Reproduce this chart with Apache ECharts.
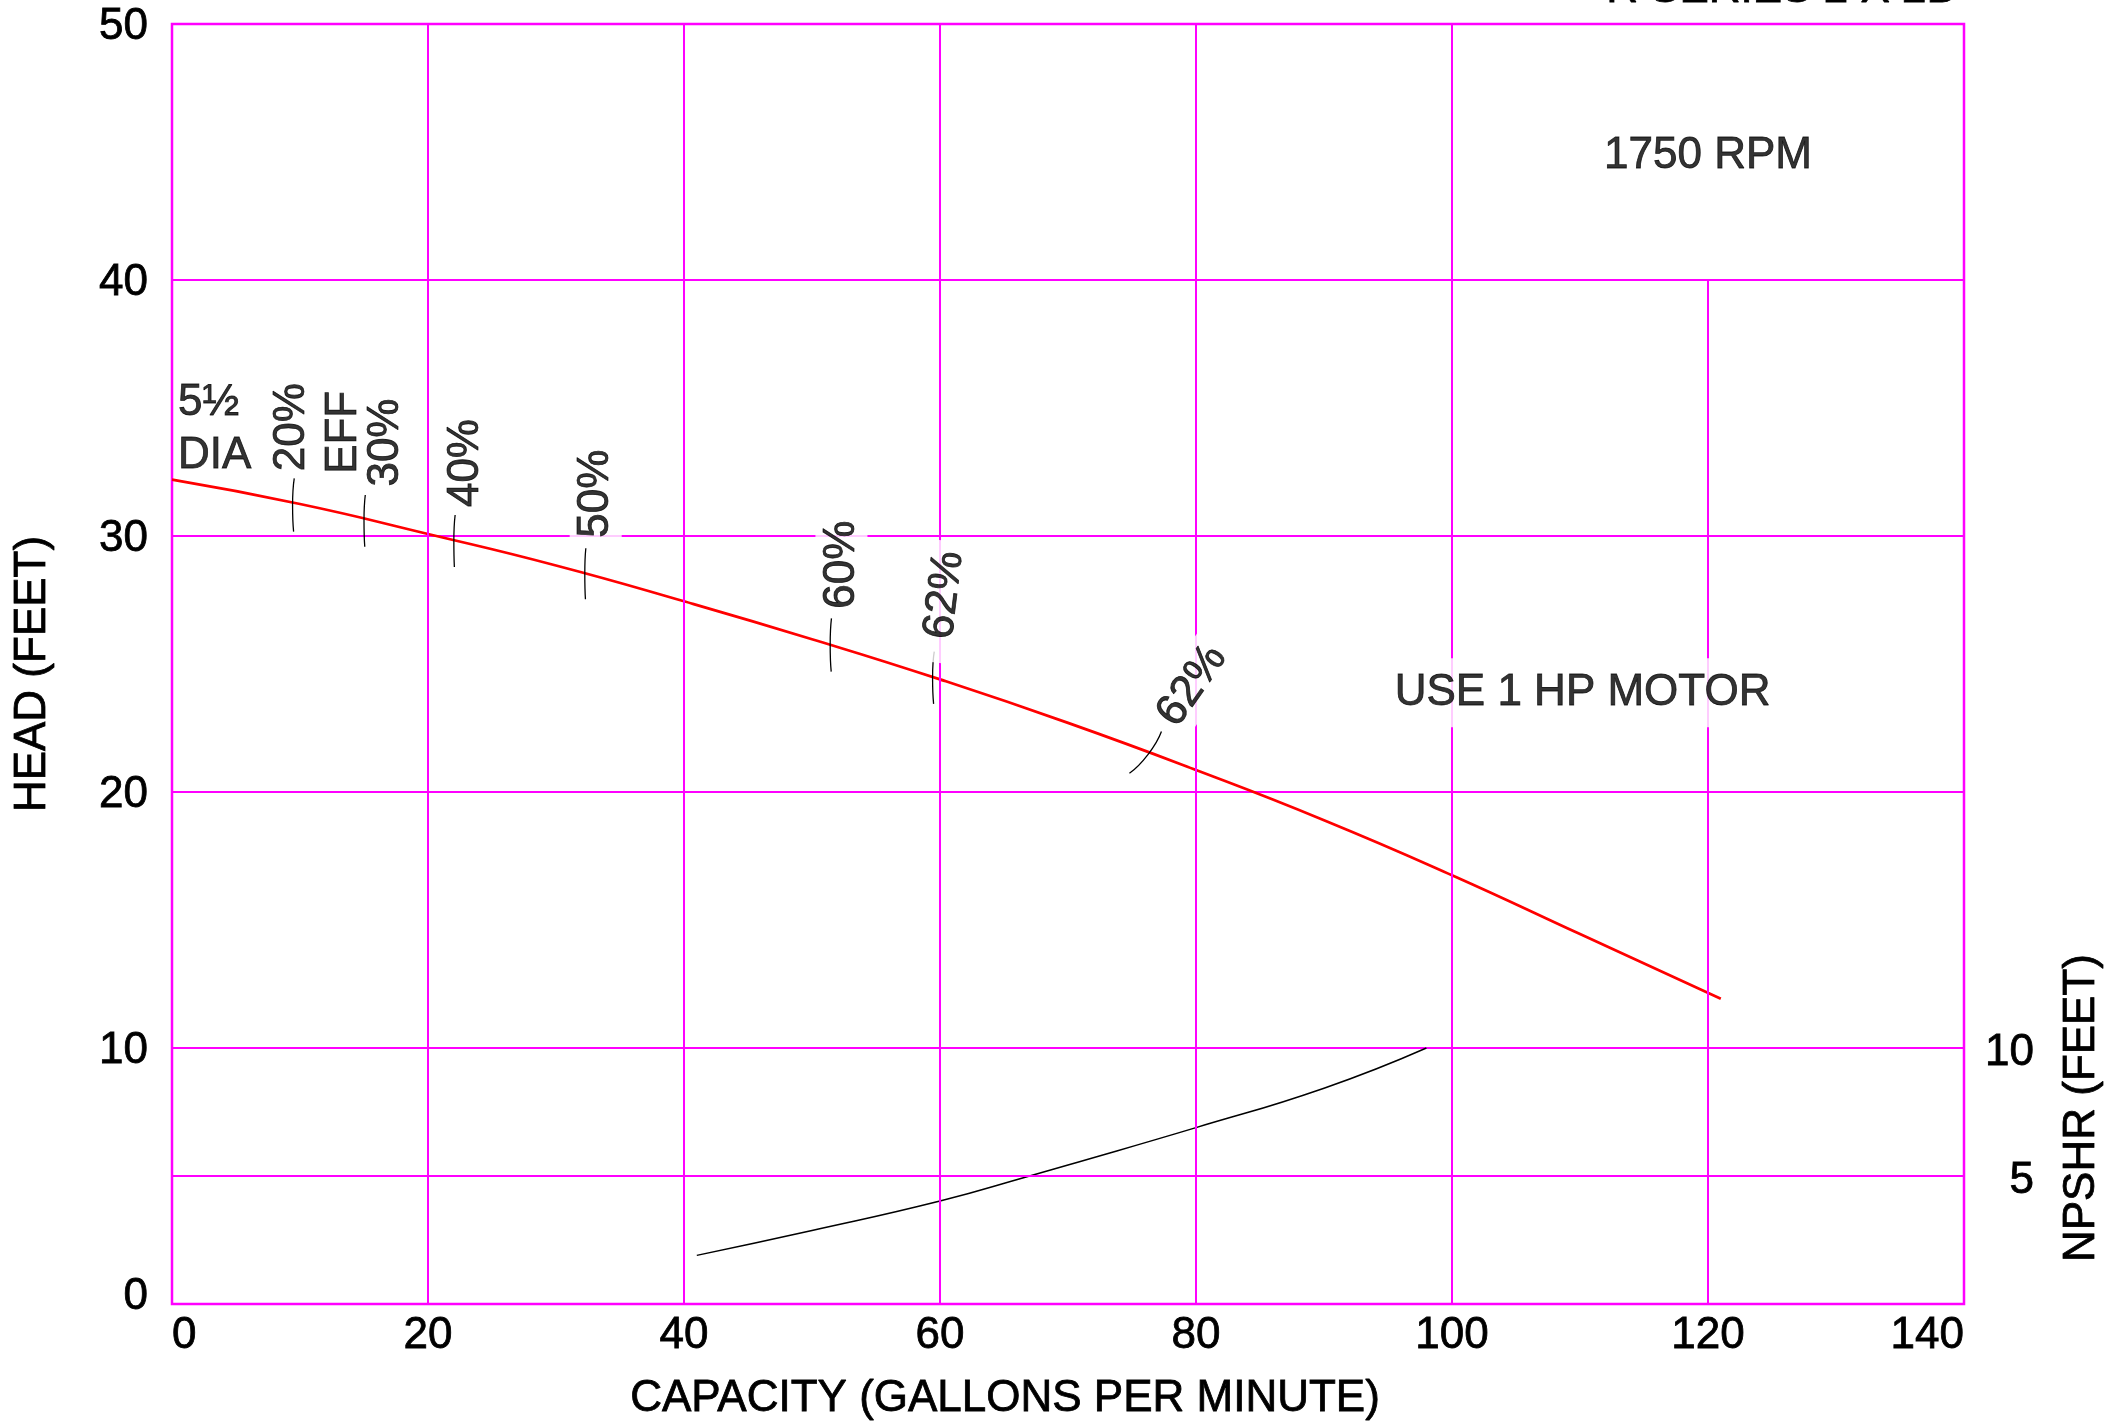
<!DOCTYPE html>
<html>
<head>
<meta charset="utf-8">
<script src="https://cdn.jsdelivr.net/npm/echarts@6/dist/echarts.min.js"></script>
<style>
html,body{margin:0;padding:0;background:#fff;}
#chart{width:2112px;height:1424px;}
</style>
</head>
<body>
<div id="chart"></div>
<script>
// ---------- data ----------
const xTicks = [0, 20, 40, 60, 80, 100, 120, 140];
const headTicks = [0, 10, 20, 30, 40, 50];
const npshrTicks = [5, 10];

const capacity = [0, 10, 20, 30, 40, 50, 60, 70, 80, 90, 100, 110, 121];
const headFeet = [32.2, 31.25, 30.08, 28.85, 27.45, 25.97, 24.4, 22.7, 20.86, 18.9, 16.75, 14.45, 11.92];

const npshrCapacity = [41, 50, 60, 67, 70, 80, 90, 98];
const npshrFeet = [1.9, 2.87, 4.02, 5.0, 5.43, 6.89, 8.43, 10.0];

const effText = ['20%', 'EFF', '30%', '40%', '50%', '60%', '62%', '62%'];
const effLabelX = [9.35, 13.4, 16.7, 22.97, 33.1, 52.3, 60.3, 79.7];
const effLabelY = [34.25, 34.05, 33.65, 32.85, 31.65, 28.88, 27.42, 24.15];

const effTickTop = [[9.55, 32.25], [15.1, 31.6], [22.12, 30.82], [32.33, 29.52], [51.52, 26.78], [59.55, 25.48], [77.3, 22.36]];
const effTickMid = [[9.42, 31.2], [15.0, 30.6], [22.02, 29.8], [32.25, 28.53], [51.42, 25.75], [59.42, 24.46], [76.26, 21.47]];
const effTickBot = [[9.5, 30.17], [15.06, 29.58], [22.06, 28.79], [32.3, 27.53], [51.5, 24.7], [59.5, 23.44], [74.8, 20.73]];

const noteText = ['5½\nDIA', '1750 RPM', 'USE 1 HP MOTOR'];
const noteX = [0.47, 120, 110.2];
const noteY = [34.18, 44.85, 23.88];

const gridXFull = [20, 40, 60, 80, 100];
const gridXPartial = [120];
const gridXPartialTop = 40;
const gridYExtra = [5];

const titleText = 'R SERIES 2 X 2B';

// ---------- styles ----------
const MAG = '#FF00FF';
const FONT = "'Liberation Sans', Arial, Helvetica, sans-serif";
const FS = 44;
const INK = {color: '#000', textBorderColor: '#000', textBorderWidth: 0.8};
const effLabelAngle = [90, 90, 90, 90, 90, 90, 83, 55];
const effLabelMask = [false, false, false, false, true, true, true, true];
const effLabelPad = [[2,4], [2,4], [2,4], [2,4], [4,8], [4,8], [4,10,4,24], [4,8]];

const chart = echarts.init(document.getElementById('chart'), null, {renderer: 'canvas'});

const tickSeries = effTickTop.map((t, i) => ({
  type: 'line',
  data: [t, effTickMid[i], effTickBot[i]],
  smooth: 0.6,
  showSymbol: false,
  silent: true,
  z: 5,
  lineStyle: {color: '#000', width: 1.3}
}));

const labelData = effText.map((t, i) => ({
  value: [effLabelX[i], effLabelY[i]],
  label: {
    formatter: t,
    rotate: effLabelAngle[i],
    backgroundColor: effLabelMask[i] ? '#fff' : 'transparent',
    padding: effLabelPad[i]
  }
})).concat(noteText.map((t, i) => ({
  value: [noteX[i], noteY[i]],
  label: {
    formatter: t,
    rotate: 0,
    align: i === 0 ? 'left' : 'center',
    lineHeight: 53,
    backgroundColor: i === 2 ? '#fff' : 'transparent',
    padding: i === 2 ? [8, 4] : [0, 0]
  }
})));

const gridMarkData = gridXFull.map(v => ({xAxis: v}))
  .concat(gridXPartial.map(v => [{coord: [v, 0]}, {coord: [v, gridXPartialTop]}]))
  .concat(gridYExtra.map(v => ({yAxis: v})));

const option = {
  animation: false,
  textStyle: {fontFamily: FONT},
  grid: {left: 172, right: 148, top: 24, bottom: 120, show: true, borderColor: MAG, borderWidth: 2.5,
         backgroundColor: '#fff', containLabel: false, outerBoundsMode: 'none'},
  xAxis: {
    type: 'value', min: xTicks[0], max: xTicks[xTicks.length - 1], interval: 20,
    name: 'CAPACITY (GALLONS PER MINUTE)', nameLocation: 'middle', nameGap: 73,
    nameTextStyle: Object.assign({fontSize: FS, fontFamily: FONT, padding: [0, 126, 0, 0]}, INK),
    axisLine: {show: false}, axisTick: {show: false},
    splitLine: {show: false},
    axisLabel: Object.assign({fontSize: FS, fontFamily: FONT, margin: 10, alignMinLabel: 'left', alignMaxLabel: 'right'}, INK)
  },
  yAxis: [{
    type: 'value', min: headTicks[0], max: headTicks[headTicks.length - 1], interval: 10,
    name: 'HEAD (FEET)', nameLocation: 'middle', nameGap: 117, nameRotate: 90,
    nameTextStyle: Object.assign({fontSize: FS, fontFamily: FONT, padding: [0, 20, 0, 0]}, INK),
    axisLine: {show: false}, axisTick: {show: false},
    splitLine: {show: true, lineStyle: {color: MAG, width: 2}},
    axisLabel: Object.assign({
      fontSize: FS, fontFamily: FONT, margin: 24, padding: [6, 0, 0, 0],
      formatter: v => v === headTicks[0] ? '{z|' + v + '}' : String(v),
      rich: {z: Object.assign({fontSize: FS, fontFamily: FONT, padding: [0, 0, 20, 0]}, INK)}
    }, INK)
  }, {
    type: 'value', min: 0, max: 50, interval: 5, position: 'right',
    axisLine: {show: false}, axisTick: {show: false}, splitLine: {show: false},
    axisLabel: Object.assign({
      fontSize: FS, fontFamily: FONT, margin: 70, align: 'right',
      formatter: v => npshrTicks.indexOf(v) >= 0 ? '{r|' + v + '}' : '',
      rich: {r: Object.assign({fontSize: FS, fontFamily: FONT, padding: [10, 0, 0, 0]}, INK)}
    }, INK)
  }],
  graphic: [{
    type: 'text', x: 2082, y: 1108, rotation: Math.PI / 2, silent: true,
    style: {text: 'NPSHR (FEET)', font: FS + 'px ' + FONT, fill: '#000', stroke: '#000', lineWidth: 0.8, align: 'center', verticalAlign: 'middle'}
  }, {
    type: 'text', x: 1781, y: -10, silent: true,
    style: {text: titleText, font: FS + 'px ' + FONT, fill: '#000', stroke: '#000', lineWidth: 0.8, align: 'center', verticalAlign: 'middle'}
  }],
  series: [{
    name: 'NPSHR', type: 'line', yAxisIndex: 1,
    data: npshrCapacity.map((x, i) => [x, npshrFeet[i]]),
    smooth: true, showSymbol: false, silent: true, z: 2,
    lineStyle: {color: '#000', width: 1.5},
    markLine: {
      silent: true, symbol: 'none', animation: false,
      label: {show: false},
      lineStyle: {color: MAG, width: 2, type: 'solid'},
      emphasis: {disabled: true},
      data: gridMarkData
    }
  }, {
    name: 'HEAD', type: 'line',
    data: capacity.map((x, i) => [x, headFeet[i]]),
    smooth: true, showSymbol: false, silent: true, z: 4,
    lineStyle: {color: '#FF0000', width: 2.7}
  }].concat(tickSeries).concat([{
    name: 'labels', type: 'scatter', symbolSize: 0, silent: true, clip: false, z: 10,
    data: labelData,
    label: Object.assign({show: true, position: 'inside', fontSize: FS, fontFamily: FONT, align: 'center', verticalAlign: 'middle'}, INK),
    emphasis: {disabled: true}
  }])
};
chart.setOption(option);
</script>
</body>
</html>
